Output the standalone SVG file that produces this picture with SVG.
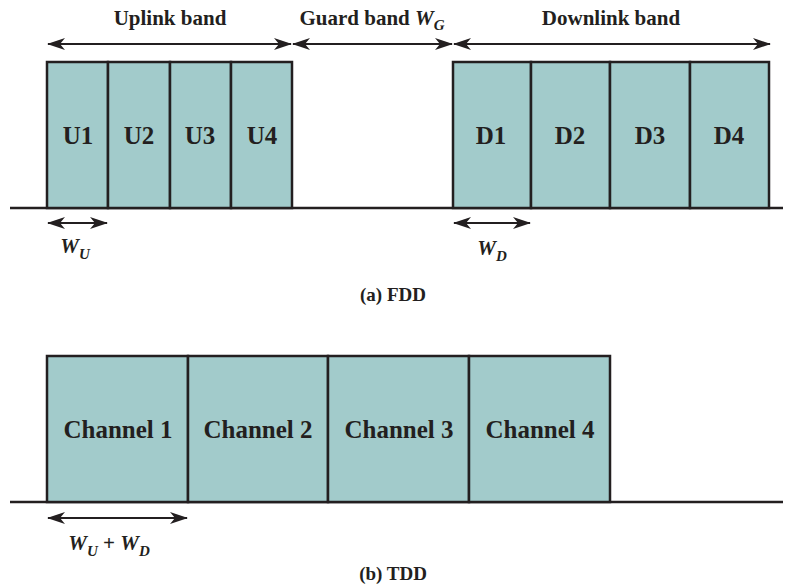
<svg xmlns="http://www.w3.org/2000/svg" width="787" height="584" viewBox="0 0 787 584">
<style>
.box{fill:#a2cbcb;stroke:#231f20;stroke-width:2.5}
.base{stroke:#231f20;stroke-width:2.5;fill:none}
.dim{stroke:#231f20;stroke-width:2.2;fill:none;marker-start:url(#ah);marker-end:url(#ah)}
.lbl{font-family:"Liberation Serif","Times New Roman",serif;font-weight:bold;font-size:25px;fill:#231f20;text-anchor:middle}
.hd{font-family:"Liberation Serif","Times New Roman",serif;font-weight:bold;font-size:21px;fill:#231f20;text-anchor:middle}
.it{font-style:italic}
.sub{font-size:15px}
.cap{font-size:19px}
</style>
<defs>
<marker id="ah" viewBox="0 0 18 12" refX="17" refY="6" markerWidth="18" markerHeight="12" markerUnits="userSpaceOnUse" orient="auto-start-reverse">
<path d="M0,0 L18,6 L0,12 L5,6 Z" fill="#231f20"/>
</marker>
</defs>
<g id="connectors">
<line class="dim" x1="48" y1="44" x2="291" y2="44"/>
<line class="dim" x1="293" y1="44" x2="452" y2="44"/>
<line class="dim" x1="454" y1="44" x2="770" y2="44"/>
<line class="dim" x1="48" y1="223" x2="107" y2="223"/>
<line class="dim" x1="454" y1="223" x2="530" y2="223"/>
<line class="dim" x1="48" y1="518" x2="187" y2="518"/>
</g>
<g id="fdd">
<line class="base" x1="10" y1="208" x2="783" y2="208"/>
<g id="U1"><rect class="box" x="47" y="62" width="61" height="146"/><text class="lbl" x="78" y="144">U1</text></g>
<g id="U2"><rect class="box" x="108" y="62" width="62" height="146"/><text class="lbl" x="139" y="144">U2</text></g>
<g id="U3"><rect class="box" x="170" y="62" width="61" height="146"/><text class="lbl" x="200" y="144">U3</text></g>
<g id="U4"><rect class="box" x="231" y="62" width="61" height="146"/><text class="lbl" x="262" y="144">U4</text></g>
<g id="D1"><rect class="box" x="453" y="62" width="78" height="146"/><text class="lbl" x="491" y="144">D1</text></g>
<g id="D2"><rect class="box" x="531" y="62" width="79" height="146"/><text class="lbl" x="570" y="144">D2</text></g>
<g id="D3"><rect class="box" x="610" y="62" width="80" height="146"/><text class="lbl" x="650" y="144">D3</text></g>
<g id="D4"><rect class="box" x="690" y="62" width="79" height="146"/><text class="lbl" x="729" y="144">D4</text></g>
<text class="hd" x="170" y="25">Uplink band</text>
<text class="hd" x="372" y="25">Guard band <tspan class="it">W</tspan><tspan class="it sub" dy="5">G</tspan></text>
<text class="hd" x="611" y="25">Downlink band</text>
<text class="hd" x="75" y="253"><tspan class="it">W</tspan><tspan class="it sub" dy="6">U</tspan></text>
<text class="hd" x="492" y="255"><tspan class="it">W</tspan><tspan class="it sub" dy="6">D</tspan></text>
<text class="hd cap" x="393" y="301">(a) FDD</text>
</g>
<g id="tdd">
<line class="base" x1="10" y1="502" x2="783" y2="502"/>
<g id="ch1"><rect class="box" x="47" y="356" width="141" height="146"/><text class="lbl" x="118" y="438">Channel 1</text></g>
<g id="ch2"><rect class="box" x="188" y="356" width="140" height="146"/><text class="lbl" x="258" y="438">Channel 2</text></g>
<g id="ch3"><rect class="box" x="328" y="356" width="141" height="146"/><text class="lbl" x="399" y="438">Channel 3</text></g>
<g id="ch4"><rect class="box" x="469" y="356" width="141" height="146"/><text class="lbl" x="540" y="438">Channel 4</text></g>
<text class="hd" x="109" y="550"><tspan class="it">W</tspan><tspan class="it sub" dy="6">U</tspan><tspan dy="-6"> + </tspan><tspan class="it">W</tspan><tspan class="it sub" dy="6">D</tspan></text>
<text class="hd cap" x="393" y="580">(b) TDD</text>
</g>
</svg>
